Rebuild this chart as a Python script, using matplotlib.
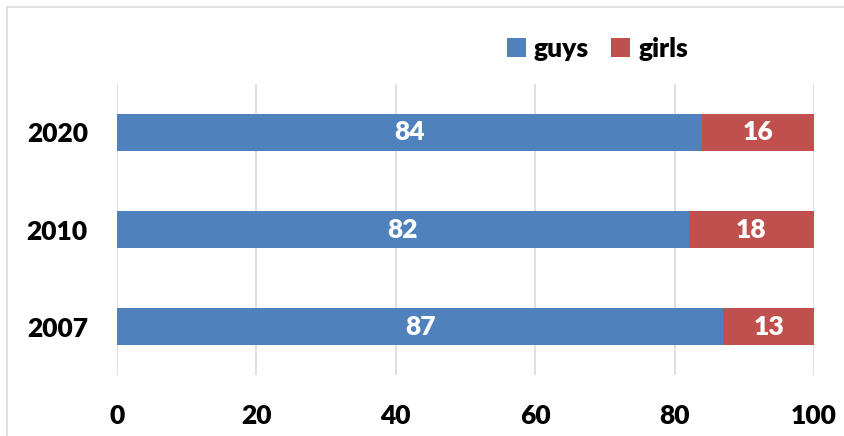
import matplotlib
matplotlib.use("Agg")
import matplotlib.pyplot as plt
from matplotlib.patches import Rectangle, Patch
from matplotlib import font_manager as fm

years = ["2007", "2010", "2020"]
guys = [87, 82, 84]
girls = [13, 18, 16]
xticks = [0, 20, 40, 60, 80, 100]

blue = "#4F81BD"
red = "#C0504D"
grid = "#D9D9D9"

FS = 19
bold_path = fm.findfont(fm.FontProperties(family='Lato', weight=800))
def fp(size=FS):
    return fm.FontProperties(fname=bold_path, size=size)

W, H = 844, 436
fig = plt.figure(figsize=(W / 100, H / 100), dpi=100)
ax = fig.add_axes([117 / W, 1 - 375 / H, (814 - 117) / W, (375 - 84) / H])

ypos = list(range(len(years)))
b1 = ax.barh(ypos, guys, height=0.39, color=blue, zorder=3)
b2 = ax.barh(ypos, girls, left=guys, height=0.39, color=red, zorder=3)

for rects, vals in ((b1, guys), (b2, girls)):
    for r, v in zip(rects, vals):
        ax.text(r.get_x() + r.get_width() / 2, r.get_y() + r.get_height() / 2,
                str(v), ha='center', va='center', color='white',
                fontproperties=fp(), zorder=4)

ax.set_xlim(0, 100)
ax.set_ylim(-0.5, 2.5)
ax.set_xticks(xticks)
ax.set_xticklabels([str(t) for t in xticks], fontproperties=fp())
ax.set_yticks(ypos)
ax.set_yticklabels(years, fontproperties=fp())
ax.tick_params(axis='both', length=0)
ax.tick_params(axis='x', pad=21)
ax.tick_params(axis='y', pad=21)
ax.xaxis.grid(True, color=grid, linewidth=1.2, zorder=0)
ax.yaxis.grid(False)
for s in ax.spines.values():
    s.set_visible(False)

handles = [Patch(facecolor=blue, label='guys'), Patch(facecolor=red, label='girls')]
fig.legend(handles=handles, loc='center left', bbox_to_anchor=(507 / W, 1 - 49 / H),
           ncol=2, frameon=False, handlelength=0.72, handleheight=0.72,
           handletextpad=0.3, columnspacing=0.85, borderpad=0, borderaxespad=0,
           prop=fp())

fig.patches.append(Rectangle((7 / W, -0.1), 1.2, 1.1 - 7 / H, transform=fig.transFigure,
                             fill=False, edgecolor=grid, linewidth=1.2))

fig.savefig("out.png", dpi=100)
